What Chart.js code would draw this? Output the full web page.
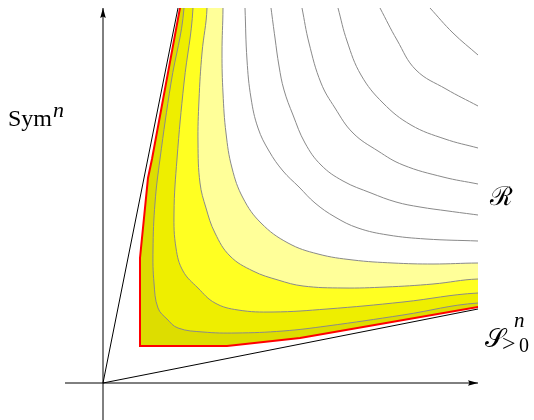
<!DOCTYPE html>
<html>
<head>
<meta charset="utf-8">
<script src="https://cdn.jsdelivr.net/npm/chart.js@4.4.1/dist/chart.umd.min.js"></script>
<style>
  html, body { margin: 0; padding: 0; background: #fff; }
</style>
</head>
<body>
<canvas id="myChart" width="534" height="420"></canvas>
<script>
const ctx = document.getElementById('myChart')

// curves, origin = corner of the axes
const boundary = [[77,375],[49,224],[45,205],[37,125],[37,37],[124,37],[197,45],[375,76]]
const level1 = [[81,375],[68,300],[57,224],[52,180],[50,133],[51,100],[55,75],[64,64],[75,55],[100,51],[133,50],[180,52],[224,57],[300,68],[375,80]]
const level2 = [[90,375],[81,300],[74,224],[71,170],[73,135],[80,112],[95,95],[112,80],[135,73],[170,71],[224,74],[300,81],[375,90]]
const level3 = [[104,375],[99,330],[96,283],[95,240],[97,200],[103,175],[112,150],[127,127],[150,112],[175,103],[200,97],[240,95],[283,96],[330,99],[375,104]]
const level4 = [[120,375],[119,330],[120,290],[123,250],[129,215],[140,185],[158,160],[185,140],[215,129],[250,123],[290,120],[330,119],[375,120]]
const level5 = [[142,375],[144,323],[148,285],[155,255],[166,232],[180,212],[196,196],[212,180],[232,166],[255,155],[285,148],[323,144],[375,142]]
const level6 = [[168,375],[172,345],[176,317],[181,293],[190,268],[202,240],[218,218],[240,202],[268,190],[293,181],[317,176],[345,172],[375,168]]
const level7 = [[199,375],[206,340],[218,300],[232,275],[250,250],[275,232],[300,218],[340,206],[375,199]]
const level8 = [[235,375],[244,342],[258,308],[280,280],[308,258],[342,244],[375,235]]
const level9 = [[277,375],[294,343],[313,313],[343,294],[375,277]]
const level10 = [[327,375],[350,350],[375,328]]

const coneUpper = [[0,0],[75,375]]
const coneLower = [[0,0],[375,74]]
const axisX = [[-38,0],[375,0]]
const axisY = [[0,-37],[0,375]]

const bandColors = ['#dddd00', '#eeee00', '#ffff22', '#ffff99', '#ffffff']

const toPts = a => a.map(p => ({x: p[0], y: p[1]}))
// close the region towards the upper right corner (outside the plot, clipped away)
const closeOff = a => [{x: a[0][0], y: 460}, ...toPts(a), {x: 460, y: a[a.length - 1][1]}, {x: 460, y: 460}]

const gray = '#8a8a8a'
function line(pts, color, width, more) {
    return Object.assign({
        data: toPts(pts),
        borderColor: color,
        borderWidth: width,
        pointRadius: 0,
        fill: false,
        tension: 0.4,
        clip: 0
    }, more)
}
function band(pts, color, lineColor, width, tension) {
    return {
        data: closeOff(pts),
        borderColor: lineColor,
        backgroundColor: color,
        borderWidth: width,
        pointRadius: 0,
        fill: 'shape',
        tension: tension,
        clip: 0
    }
}

const decor = {
    id: 'decor',
    afterDatasetsDraw(chart) {
        const c = chart.ctx
        const sx = chart.scales.x, sy = chart.scales.y
        c.save()
        c.fillStyle = '#000'
        // arrow heads on the axes
        chart.data.datasets.forEach((ds, i) => {
            if (!ds.arrow) return
            const pts = chart.getDatasetMeta(i).data
            const a = pts[pts.length - 2], b = pts[pts.length - 1]
            const ang = Math.atan2(b.y - a.y, b.x - a.x)
            c.save()
            c.translate(b.x, b.y)
            c.rotate(ang)
            c.beginPath()
            c.moveTo(0, 0)
            c.lineTo(-10, -2.8)
            c.lineTo(-8.5, 0)
            c.lineTo(-10, 2.8)
            c.closePath()
            c.fill()
            c.restore()
        })
        const serif = '"Liberation Serif", "DejaVu Serif", serif'
        c.textBaseline = 'alphabetic'
        c.textAlign = 'left'
        c.font = '24px ' + serif
        const symX = sx.getPixelForValue(-95)
        c.fillText('Sym', symX, sy.getPixelForValue(257))
        const symW = c.measureText('Sym').width
        c.font = 'italic 22px ' + serif
        c.fillText('n', symX + symW + 1, sy.getPixelForValue(266))
        c.font = '26px ' + serif
        c.fillText('ℛ', sx.getPixelForValue(387), sy.getPixelForValue(178))
        c.fillText('𝒮', sx.getPixelForValue(382), sy.getPixelForValue(36))
        c.font = 'italic 21px ' + serif
        c.fillText('n', sx.getPixelForValue(411), sy.getPixelForValue(56))
        c.font = '24px ' + serif
        c.fillText('>', sx.getPixelForValue(399), sy.getPixelForValue(32))
        c.font = '20px ' + serif
        c.fillText('0', sx.getPixelForValue(416), sy.getPixelForValue(31))
        c.restore()
    }
}

const myChart = new Chart(ctx, {
    type: 'line',
    data: {
        datasets: [
            line(axisX, '#000', 1, {clip: false, tension: 0, arrow: true}),
            line(axisY, '#000', 1, {clip: false, tension: 0, arrow: true}),
            line(coneUpper, '#000', 1, {tension: 0}),
            line(coneLower, '#000', 1, {tension: 0}),
            line(level10, gray, 1),
            line(level9, gray, 1),
            line(level8, gray, 1),
            line(level7, gray, 1),
            line(level6, gray, 1),
            line(level5, gray, 1),
            band(level4, bandColors[4], gray, 1, 0.4),
            band(level3, bandColors[3], gray, 1, 0.4),
            band(level2, bandColors[2], gray, 1, 0.4),
            band(level1, bandColors[1], gray, 1, 0.4),
            band(boundary, bandColors[0], '#ff0000', 2, 0)
        ]
    },
    options: {
        responsive: false,
        animation: false,
        events: [],
        layout: { padding: { left: 0, top: 8, right: 56, bottom: 0 } },
        elements: { line: { capBezierPoints: false } },
        plugins: {
            legend: { display: false },
            tooltip: { enabled: false }
        },
        scales: {
            x: { type: 'linear', min: -103, max: 375, display: false },
            y: { type: 'linear', min: -37, max: 375, display: false }
        }
    },
    plugins: [decor]
});
</script>
</body>
</html>
